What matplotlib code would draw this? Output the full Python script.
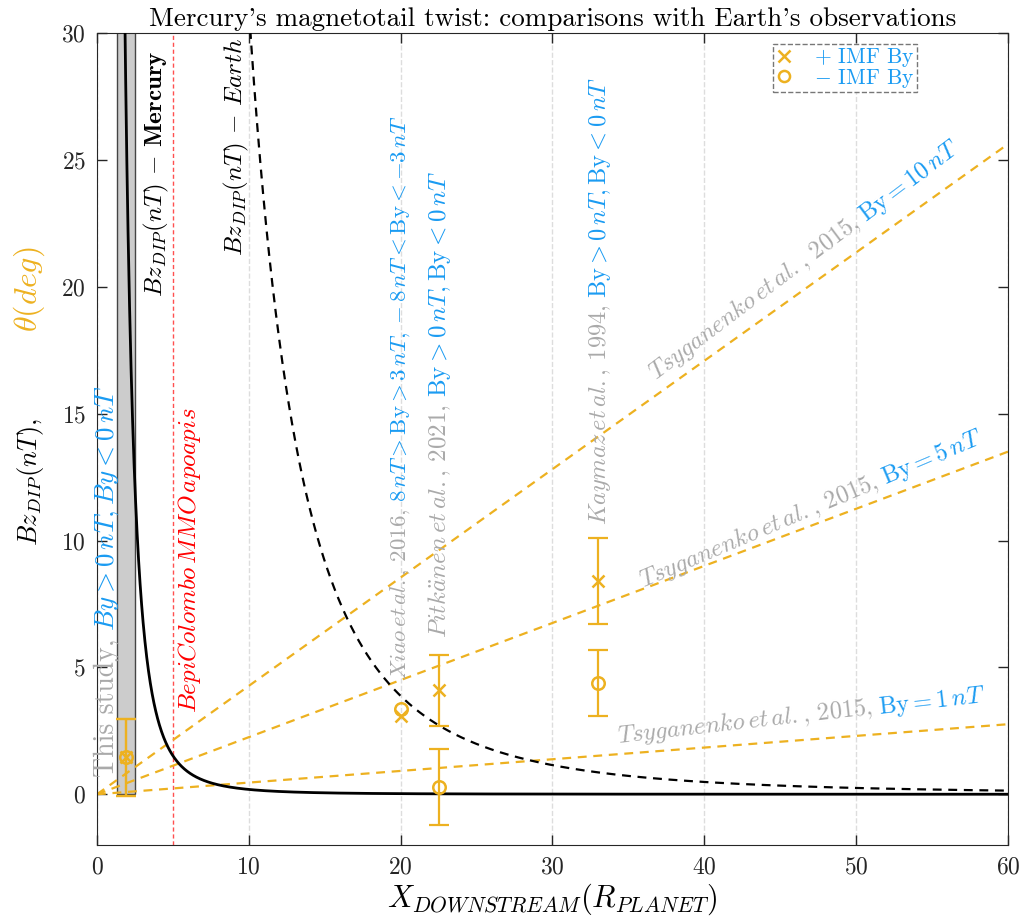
import numpy as np
import matplotlib
matplotlib.use("Agg")
from matplotlib import pyplot as plt
from matplotlib.lines import Line2D

ORANGE = "#EDB120"
BLUE = "#1A9BF2"
GRAY = "#AAAAAA"
RED = "#FF0000"

# equatorial dipole field at 1 planetary radius (nT)
MERCURY_B0 = 190
EARTH_B0 = 31000

# Tsyganenko et al. 2015 twist angle growth (deg per R) for each IMF By
TSY_BY = [10, 5, 1]
TSY_SLOPE = [0.427, 0.225, 0.046]

APOAPSIS_X = 5
STUDY_BAND = [1.3, 2.5]

# observed twist angles (deg), NaN where no spread is given
OBS_X = [1.9, 20.0, 22.5, 33.0]
POS_THETA = [1.45, 3.1, 4.1, 8.4]
POS_ERR = [1.5, np.nan, 1.4, 1.7]
NEG_THETA = [1.45, 3.35, 0.3, 4.4]
NEG_ERR = [1.5, np.nan, 1.5, 1.3]

plt.rcParams["font.family"] = "cmr10"
plt.rcParams["mathtext.fontset"] = "cm"
plt.rcParams["axes.formatter.use_mathtext"] = True
plt.rcParams["axes.unicode_minus"] = False


def colored_text(ax, x, y, parts, angle):
    """Write a run of differently coloured strings along one baseline."""
    renderer = ax.figure.canvas.get_renderer()
    px, py = ax.transData.transform((x, y))
    c, s = np.cos(np.radians(angle)), np.sin(np.radians(angle))
    for text, color, size, gap in parts:
        tx, ty = ax.transData.inverted().transform((px, py))
        t = ax.text(tx, ty, text, color=color, fontsize=size, ha="left",
                    va="baseline", rotation=0, rotation_mode="anchor")
        w = t.get_window_extent(renderer).width + gap
        t.set_rotation(angle)
        px += w * c
        py += w * s


fig = plt.figure(figsize=(10.24, 9.21), dpi=100)
ax = fig.add_axes([0.0947, 0.0825, 0.8896, 0.8817])
ax.set_xlim(0, 60)
ax.set_ylim(-2, 30)

ax.bar(np.mean(STUDY_BAND), 31, width=STUDY_BAND[1] - STUDY_BAND[0], bottom=0,
       color="#CCCCCC", edgecolor="#444444", linewidth=1, zorder=1)
ax.axvline(APOAPSIS_X, color="#FF5050", ls="--", lw=1, dashes=(3, 2), zorder=1)

x = np.linspace(0.5, 60, 3000)
ax.plot(x, MERCURY_B0 / x**3, color="black", lw=2, zorder=3)
ax.plot(x, EARTH_B0 / x**3, color="black", lw=1.6, ls="--", dashes=(4, 3), zorder=3)

xs = np.array([0, 60])
for slope in TSY_SLOPE:
    ax.plot(xs, slope * xs, color=ORANGE, lw=1.6, ls="--", dashes=(4, 3), zorder=2)

obs_x = np.array(OBS_X)
for theta, err, mk in [(POS_THETA, POS_ERR, "x"), (NEG_THETA, NEG_ERR, "o")]:
    theta = np.array(theta)
    err = np.array(err)
    ok = np.isfinite(err)
    ax.errorbar(obs_x[ok], theta[ok], yerr=err[ok], fmt="none", ecolor=ORANGE,
                elinewidth=1.6, capsize=7, capthick=1.6, zorder=4)
    ax.plot(obs_x, theta, ls="none", marker=mk, color=ORANGE, mfc="none",
            ms=9, mew=1.8, zorder=5)

ax.set_xticks(np.arange(0, 61, 10))
ax.set_yticks(np.arange(0, 31, 5))
ax.xaxis.grid(True, ls="--", color="#DDDDDD", lw=1)
ax.set_axisbelow(True)
ax.tick_params(direction="in", length=7, width=1, top=True, right=True,
               labelsize=17, colors="#262626", pad=8)
for sp in ax.spines.values():
    sp.set_color("#262626")

ax.set_title("Mercury's magnetotail twist: comparisons with Earth's observations",
             fontsize=19.5, pad=5)
ax.set_xlabel(r"$X_{DOWNSTREAM}(R_{PLANET})$", fontsize=22, labelpad=2)

leg = ax.legend(
    [Line2D([], [], ls="none", marker="x", color=ORANGE, ms=8, mew=1.8),
     Line2D([], [], ls="none", marker="o", color=ORANGE, mfc="none", ms=8, mew=1.8)],
    [r"$+$ IMF By", r"$-$ IMF By"],
    loc="upper right", bbox_to_anchor=(0.9, 0.9865), borderaxespad=0,
    fontsize=15.5, fancybox=False, handlelength=0.8, handletextpad=1.0,
    borderpad=0.1, labelspacing=-0.1, framealpha=1)
leg.get_frame().set_linestyle("--")
leg.get_frame().set_edgecolor("#777777")
for t in leg.get_texts():
    t.set_color(BLUE)

colored_text(ax, -3.95, 9.8, [(r"$Bz_{DIP}(nT),$", "black", 19, 85),
                               (r"$\theta(deg)$", ORANGE, 23, 0)], 90)

colored_text(ax, 1.1, 0.67, [("This study,", GRAY, 20, 8),
                              (r"$By>0\,nT, By<0\,nT$", BLUE, 19.5, 0)], 90)
colored_text(ax, 4.28, 19.6, [(r"$Bz_{DIP}(nT)\,-\,\mathbf{Mercury}$", "black", 18, 0)], 90)
colored_text(ax, 6.5, 3.2, [(r"$BepiColombo\,MMO\,apoapis$", RED, 18, 0)], 90)
colored_text(ax, 9.55, 21.2, [(r"$Bz_{DIP}(nT)\,-\,Earth$", "black", 18, 0)], 90)
colored_text(ax, 20.35, 4.5, [(r"$Xiao\,et\,al.$, 2016,", GRAY, 16.5, 7),
                               (r"$8\,nT>$By$>3\,nT, -8\,nT<$By$<-3\,nT$", BLUE, 16.5, 0)], 90)
colored_text(ax, 23.0, 6.15, [(r"$Pitk\ddot{a}nen\,et\,al.$, 2021,", GRAY, 18, 7),
                               (r"By$>0\,nT,$By$<0\,nT$", BLUE, 18, 0)], 90)
colored_text(ax, 33.5, 10.6, [(r"$Kaymaz\,et\,al.$, 1994,", GRAY, 17.6, 7),
                               (r"By$>0\,nT,$By$<0\,nT$", BLUE, 17.6, 0)], 90)

tsy_pos = [(36.8, 16.3, 37), (36.0, 8.16, 23), (34.3, 2.0, 6.5)]
for by, (tx, ty, ang) in zip(TSY_BY, tsy_pos):
    colored_text(ax, tx, ty, [(r"$Tsyganenko\,et\,al.$, 2015,", GRAY, 17.6, 6),
                              (r"By$=%d\,nT$" % by, BLUE, 17.6, 0)], ang)

fig.savefig("out.png", dpi=100)
